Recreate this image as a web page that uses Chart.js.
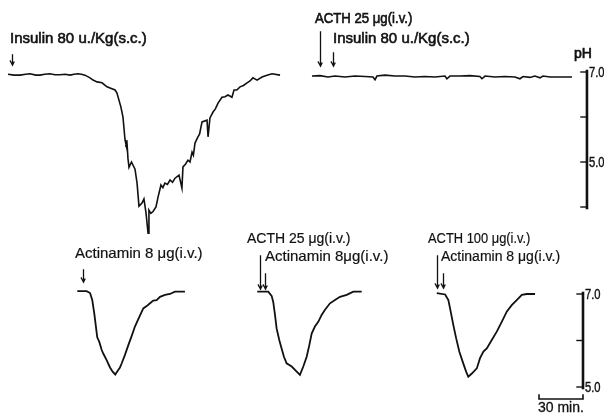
<!DOCTYPE html>
<html>
<head>
<meta charset="utf-8">
<script src="https://cdn.jsdelivr.net/npm/chart.js@4.4.0/dist/chart.umd.min.js"></script>
<style>
  html, body { margin: 0; padding: 0; background: #fff; }
  #wrap { width: 604px; height: 418px; position: relative; }
</style>
</head>
<body>
<div id="wrap"><canvas id="phChart" width="604" height="418"></canvas></div>
<script>
// gastric pH recordings, time in minutes from the start of each record

// insulin 80 u/kg s.c. alone
const insulinTime = [0, 4, 8.2, 12, 15, 19, 21.8, 25, 28.6, 32, 35.5, 39, 42.3, 45, 47.7, 50, 52.5, 55.9, 58, 60.7,
  64.1, 67.5, 70, 73, 74.3, 77, 78.4, 79.8, 80.4, 81.1, 81.8, 82.5, 84.2, 86.6, 88, 89.3, 91.4, 92.7, 94.1, 95.5,
  96.1, 97.4, 98.9, 100.9, 102.3, 104.3, 105.6, 107, 108.7, 110.5, 112.2, 113.9, 116.6, 118.6, 119.3, 121, 122.7, 124.1, 125.5, 126.4,
  127.5, 129.5, 130.6, 132.3, 135.7, 136.4, 137.7, 139.8, 141.4, 143.2, 145.9, 148, 150, 152.7, 154.1, 156, 158.2, 160.5, 163, 165,
  167, 169.8, 173.2, 176.6, 180, 185.5];
const insulinPH = [6.95, 6.93, 6.93, 6.95, 6.96, 6.93, 6.93, 6.95, 6.96, 6.94, 6.94, 6.95, 6.93, 6.95, 6.96, 6.95, 6.93, 6.87, 6.82, 6.78,
  6.76, 6.67, 6.64, 6.60, 6.53, 6.22, 6.00, 5.49, 5.40, 5.44, 5.08, 4.88, 5.00, 4.84, 4.53, 4.02, 4.09, 4.18, 3.87, 3.42,
  3.93, 3.86, 3.90, 4.00, 4.22, 4.49, 4.43, 4.53, 4.50, 4.60, 4.55, 4.64, 4.71, 4.42, 4.89, 4.95, 5.04, 5.00, 5.22, 5.15,
  5.42, 5.56, 5.62, 5.89, 5.93, 5.56, 5.98, 6.11, 6.18, 6.31, 6.44, 6.45, 6.49, 6.44, 6.60, 6.60, 6.67, 6.70, 6.76, 6.80,
  6.87, 6.82, 6.89, 6.93, 6.96, 6.93];

// ACTH 25 ug i.v. then insulin
const acthInsulinTime = [0, 5.5, 10.9, 15.7, 22.5, 29.3, 36.1, 41.6, 43, 44.3, 49.8, 56.6, 63.4, 70.2, 77, 83.9, 90.7, 92, 94.1, 100.9,
  107.7, 114.5, 115.9, 118, 124.8, 131.6, 138.4, 141.8, 143.9, 148.6, 152, 155.5, 157.5, 162.3, 169.1, 177.3];
const acthInsulinPH = [6.91, 6.92, 6.89, 6.91, 6.89, 6.91, 6.90, 6.89, 6.83, 6.91, 6.93, 6.91, 6.91, 6.89, 6.90, 6.89, 6.91, 6.85, 6.91, 6.91,
  6.92, 6.90, 6.85, 6.91, 6.89, 6.90, 6.89, 6.85, 6.90, 6.88, 6.91, 6.87, 6.91, 6.89, 6.89, 6.89];

// actinamin 8 ug i.v. alone
const actinTime = [0, 6.4, 8.7, 10.2, 11.6, 12.7, 13.6, 15.0, 16.6, 17.7, 20.0, 22.3, 24.1, 25.9, 28.0, 29.1, 30.3, 32.5, 34.8, 37.1,
  39.3, 42.3, 45.0, 47.3, 49.6, 51.8, 54.1, 56.4, 59.8, 63.2, 66.6, 73.4];
const actinPH = [7.06, 7.06, 7.02, 6.87, 6.58, 6.30, 6.07, 5.97, 5.80, 5.72, 5.58, 5.42, 5.33, 5.27, 5.37, 5.42, 5.51, 5.69, 5.90, 6.10,
  6.30, 6.51, 6.69, 6.74, 6.80, 6.86, 6.87, 6.94, 6.98, 7.00, 7.05, 7.05];

// ACTH 25 ug then actinamin
const acth25Time = [0, 7.5, 9.8, 10.9, 12.1, 13.2, 15.0, 16.6, 18.2, 20.0, 23.5, 26.9, 29.1, 31.4, 33.7, 35.5, 37.1, 39.3, 41.6, 43.9,
  46.2, 49.6, 53.0, 56.4, 61.0, 65.5, 71.2];
const acth25PH = [7.05, 7.05, 6.96, 6.83, 6.55, 6.26, 6.01, 5.83, 5.65, 5.51, 5.44, 5.33, 5.26, 5.44, 5.65, 5.90, 6.15, 6.30, 6.40, 6.55,
  6.66, 6.80, 6.87, 6.94, 6.98, 7.05, 7.05];

// ACTH 100 ug then actinamin
const acth100Time = [0, 5.7, 7.9, 9.5, 11.3, 13.2, 15.4, 17.7, 20.0, 21.5, 23.9, 27.3, 29.5, 31.8, 34.1, 37.5, 40.9, 44.3, 47.7, 51.1,
  54.5, 58.0, 61.4, 67.0];
const acth100PH = [7.02, 6.99, 6.87, 6.62, 6.33, 6.05, 5.76, 5.54, 5.33, 5.22, 5.29, 5.40, 5.62, 5.76, 5.83, 6.01, 6.19, 6.40, 6.62, 6.76,
  6.87, 6.98, 7.00, 7.00];

// pH calibration bars
const topTicks = [7, 6, 5, 4];
const topTickLabels = ['7.0', '', '5.0', ''];
const bottomTicks = [7, 6, 5];
const bottomTickLabels = ['7.0', '', '5.0'];
const timeBarMinutes = 30;

// page geometry
const W = 604, H = 418;
const PX_PER_MIN = 44 / 30;
const FIG_MINUTES = W / PX_PER_MIN;
const TOP_PH7_PX = 72, TOP_PX_PER_PH = 45;
const BOT_PH7_PX = 294, BOT_PX_PER_PH = 46.5;

// where each record starts on the shared time axis (minutes)
const records = [
  { time: insulinTime, ph: insulinPH, axis: 'yTop', start: 5.45, marks: [{ t: 2.7, y1: 55, y2: 65 }] },
  { time: acthInsulinTime, ph: acthInsulinPH, axis: 'yTop', start: 212.7, marks: [{ t: 5.5, y1: 32, y2: 66 }, { t: 14.3, y1: 53, y2: 66 }] },
  { time: actinTime, ph: actinPH, axis: 'yBot', start: 52.7, marks: [{ t: 3.7, y1: 270, y2: 282 }] },
  { time: acth25Time, ph: acth25PH, axis: 'yBot', start: 175.4, marks: [{ t: 1.8, y1: 256, y2: 289 }, { t: 5.3, y1: 274, y2: 289 }] },
  { time: acth100Time, ph: acth100PH, axis: 'yBot', start: 297.8, marks: [{ t: 0.4, y1: 256, y2: 288 }, { t: 4.1, y1: 274, y2: 288 }] }
];

const labels = [
  { text: 'Insulin 80 u./Kg(s.c.)', x: 10, y: 43, size: 15, sx: 1, w: 0.6 },
  { text: 'ACTH 25 \u03bcg(i.v.)', x: 315, y: 23, size: 14, sx: 0.94, w: 0.6 },
  { text: 'Insulin 80 u./Kg(s.c.)', x: 333, y: 43, size: 15, sx: 1, w: 0.6 },
  { text: 'pH', x: 574, y: 58, size: 14, sx: 1, w: 0.7 },
  { text: 'Actinamin 8 \u03bcg(i.v.)', x: 75, y: 258, size: 15, sx: 1, w: 0.2 },
  { text: 'ACTH 25 \u03bcg(i.v.)', x: 247, y: 243, size: 14, sx: 1, w: 0.2 },
  { text: 'Actinamin 8\u03bcg(i.v.)', x: 265, y: 261, size: 15, sx: 1, w: 0.2 },
  { text: 'ACTH 100 \u03bcg(i.v.)', x: 428, y: 243, size: 14, sx: 0.92, w: 0.2 },
  { text: 'Actinamin 8 \u03bcg(i.v.)', x: 441, y: 261, size: 14, sx: 1, w: 0.2 },
  { text: '30 min.', x: 538, y: 412, size: 14, sx: 1, w: 0.3 }
];

const INK = '#111';
const FONT = '"Liberation Sans", Arial, sans-serif';

function drawText(ctx, l) {
  ctx.save();
  ctx.translate(l.x, l.y);
  ctx.scale(l.sx, 1);
  ctx.font = l.size + 'px ' + FONT;
  ctx.fillStyle = INK;
  ctx.strokeStyle = INK;
  ctx.textBaseline = 'alphabetic';
  ctx.fillText(l.text, 0, 0);
  if (l.w) { ctx.lineWidth = l.w; ctx.strokeText(l.text, 0, 0); }
  ctx.restore();
}

function drawArrow(ctx, x, y1, y2) {
  ctx.beginPath();
  ctx.moveTo(x, y1);
  ctx.lineTo(x, y2);
  ctx.moveTo(x - 2.2, y2 - 4);
  ctx.lineTo(x, y2);
  ctx.lineTo(x + 1.5, y2 - 3);
  ctx.stroke();
}

function drawPhBar(ctx, xPx, yScale, ticks, tickLabels) {
  const yTopPx = yScale.getPixelForValue(Math.max(...ticks));
  const yBotPx = yScale.getPixelForValue(Math.min(...ticks));
  ctx.lineWidth = 2.6;
  ctx.beginPath();
  ctx.moveTo(xPx, yTopPx - 1);
  ctx.lineTo(xPx, yBotPx + 1);
  ctx.stroke();
  ctx.lineWidth = 1.4;
  ticks.forEach((v, i) => {
    const y = yScale.getPixelForValue(v);
    ctx.beginPath();
    ctx.moveTo(xPx - 6, y);
    ctx.lineTo(xPx, y);
    ctx.stroke();
    if (tickLabels[i]) {
      drawText(ctx, { text: tickLabels[i], x: xPx + 2, y: y + 5, size: 14, sx: 0.8, w: 0.4 });
    }
  });
}

const annotations = {
  id: 'annotations',
  afterDatasetsDraw(chart) {
    const { ctx, scales } = chart;
    const x = scales.x;
    ctx.save();
    ctx.strokeStyle = INK;
    ctx.lineCap = 'square';

    // injection arrows
    ctx.lineWidth = 1.3;
    records.forEach(r => r.marks.forEach(m => {
      drawArrow(ctx, Math.round(x.getPixelForValue(r.start + m.t)) + 0.5, m.y1, m.y2);
    }));

    // pH calibration bars
    drawPhBar(ctx, x.getPixelForValue(400.2), scales.yTop, topTicks, topTickLabels);
    const botBarX = x.getPixelForValue(397.5);
    drawPhBar(ctx, botBarX, scales.yBot, bottomTicks, bottomTickLabels);

    // time bar
    const tx0 = x.getPixelForValue(397.5 - timeBarMinutes);
    const ty = 399;
    ctx.lineWidth = 1.6;
    ctx.beginPath();
    ctx.moveTo(tx0, ty - 4);
    ctx.lineTo(tx0, ty);
    ctx.lineTo(botBarX, ty);
    ctx.lineTo(botBarX, ty - 4);
    ctx.stroke();

    labels.forEach(l => drawText(ctx, l));
    ctx.restore();
  }
};

new Chart(document.getElementById('phChart'), {
  type: 'line',
  data: {
    datasets: records.map(r => ({
      data: r.time.map((t, i) => ({ x: r.start + t, y: r.ph[i] })),
      yAxisID: r.axis,
      borderColor: INK,
      borderWidth: r.axis === 'yTop' ? 1.6 : 1.8,
      pointRadius: 0,
      tension: 0,
      fill: false
    }))
  },
  options: {
    responsive: false,
    animation: false,
    events: [],
    layout: { padding: 0 },
    plugins: { legend: { display: false }, tooltip: { enabled: false } },
    scales: {
      x: { type: 'linear', display: false, min: 0, max: FIG_MINUTES },
      yTop: {
        type: 'linear', display: false,
        max: 7 + TOP_PH7_PX / TOP_PX_PER_PH,
        min: 7 + TOP_PH7_PX / TOP_PX_PER_PH - H / TOP_PX_PER_PH
      },
      yBot: {
        type: 'linear', display: false,
        max: 7 + BOT_PH7_PX / BOT_PX_PER_PH,
        min: 7 + BOT_PH7_PX / BOT_PX_PER_PH - H / BOT_PX_PER_PH
      }
    }
  },
  plugins: [annotations]
});
</script>
</body>
</html>
